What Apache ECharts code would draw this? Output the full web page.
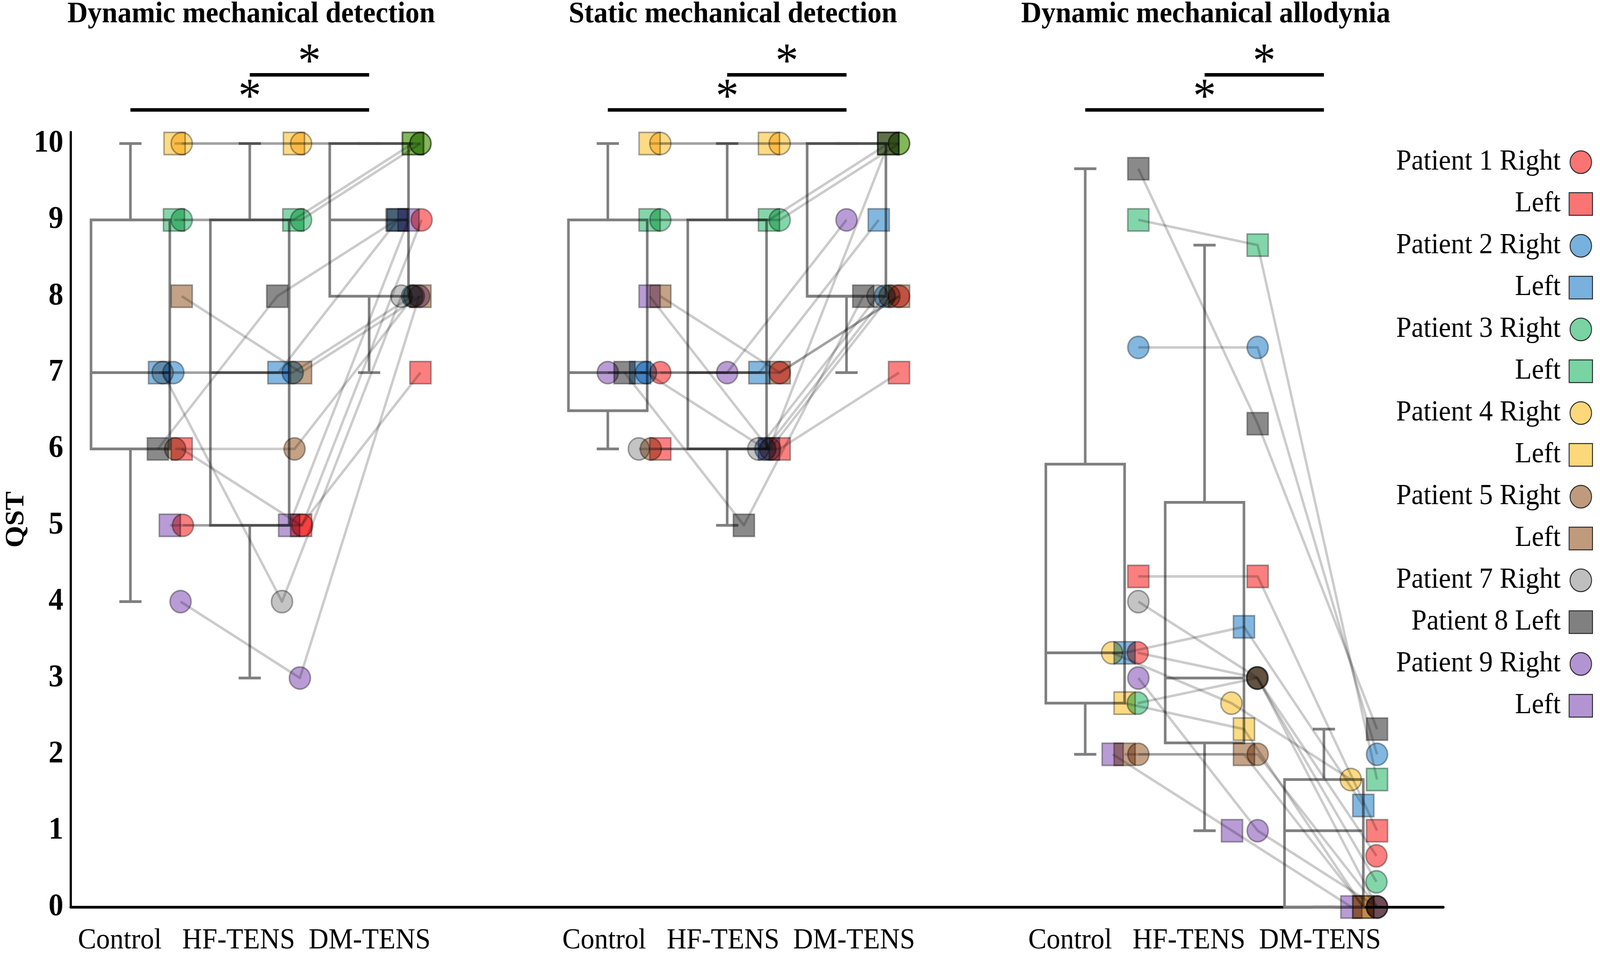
<!DOCTYPE html>
<html>
<head>
<meta charset="utf-8">
<script src="https://cdn.jsdelivr.net/npm/echarts@6/dist/echarts.min.js"></script>
<style>
html,body{margin:0;padding:0;background:#ffffff;overflow:hidden;width:100%;height:100%;}
#chart{width:4318px;height:2454px;transform-origin:0 0;}
</style>
</head>
<body>
<div id="chart"></div>
<script>
// ---------------- data ----------------
const conditions = ['Control', 'HF-TENS', 'DM-TENS'];
const panelTitles = ['Dynamic mechanical detection', 'Static mechanical detection', 'Dynamic mechanical allodynia'];
const patientLabels = ['Patient 1 Right', 'Patient 1 Left', 'Patient 2 Right', 'Patient 2 Left',
  'Patient 3 Right', 'Patient 3 Left', 'Patient 4 Right', 'Patient 4 Left',
  'Patient 5 Right', 'Patient 5 Left', 'Patient 7 Right', 'Patient 8 Left',
  'Patient 9 Right', 'Patient 9 Left'];
const yTicks = [0, 1, 2, 3, 4, 5, 6, 7, 8, 9, 10];

// values per condition, in patient order above
const dynDetControl = [5, 6, 7, 7, 9, 9, 10, 10, 6, 8, 7, 6, 4, 5];
const dynDetHF      = [5, 5, 7, 7, 9, 9, 10, 10, 6, 7, 4, 8, 3, 5];
const dynDetDM      = [9, 7, 8, 9, 10, 10, 10, 10, 8, 8, 8, 9, 8, 9];

const statDetControl = [7, 6, 7, 7, 9, 9, 10, 10, 6, 8, 6, 7, 7, 8];
const statDetHF      = [7, 6, 6, 7, 9, 9, 10, 10, 6, 7, 6, 5, 7, 6];
const statDetDM      = [8, 7, 8, 9, 10, 10, 10, 10, 8, 8, 8, 8, 9, 10];

const alloControl = [3.33, 4.33, 7.33, 3.33, 2.67, 9, 3.33, 2.67, 2, 2, 4, 9.67, 3, 2];
const alloHF      = [3, 4.33, 7.33, 3.67, 3, 8.67, 2.67, 2.33, 2, 2, 3, 6.33, 1, 1];
const alloDM      = [0.67, 1, 2, 1.33, 0.33, 1.67, 1.67, 0, 0, 0, 0, 2.33, 0, 0];

// per-patient horizontal jitter of the points (category units)
const dynDetJitter  = [0.44, 0.43, 0.36, 0.24, 0.43, 0.365, 0.43, 0.37, 0.375, 0.43, 0.27, 0.23, 0.42, 0.33];
const statDetJitter = [0.44, 0.44, 0.32, 0.27, 0.44, 0.35, 0.44, 0.35, 0.36, 0.44, 0.26, 0.14, 0.0, 0.35];
const alloJitter    = [0.44, 0.445, 0.445, 0.33, 0.44, 0.445, 0.225, 0.33, 0.445, 0.33, 0.445, 0.445, 0.445, 0.23];

// box statistics [min, Q1, median, Q3, max] for Control, HF-TENS, DM-TENS
const dynDetBox  = [[4, 6, 7, 9, 10], [3, 5, 7, 9, 10], [7, 8, 9, 10, 10]];
const statDetBox = [[6, 6.5, 7, 9, 10], [5, 6, 7, 9, 10], [7, 8, 8, 10, 10]];
const alloBox    = [[2, 2.67, 3.33, 5.8, 9.67], [1, 2.15, 3, 5.3, 8.67], [0, 0, 1, 1.67, 2.33]];

// significant comparisons (condition index pairs) in every panel
const sigPairs = [[1, 2], [0, 2]];
const sigMark = '*';

// ---------------- styles / layout ----------------
const FONT = "'Liberation Serif', 'Times New Roman', serif";
const patientColors = ['#fb7474', '#fb7474', '#78b1de', '#78b1de', '#79d3a2', '#79d3a2',
  '#fdd87a', '#fdd87a', '#bf9a7c', '#bf9a7c', '#bfbfbf', '#808080', '#b394d3', '#b394d3'];
const PANEL_STEP = 4;
const BOX_HALF = 0.33;
const CAP_HALF = 0.093;
const BOX_COLOR = '#7f7f7f';
const SIG_TOP = 10.9;
const SIG_GAP = 0.46;

const panelValues = [
  [dynDetControl, dynDetHF, dynDetDM],
  [statDetControl, statDetHF, statDetDM],
  [alloControl, alloHF, alloDM]
];
const panelJitter = [dynDetJitter, statDetJitter, alloJitter];
const panelBoxes = [dynDetBox, statDetBox, alloBox];

function isRight(label) { return /Right$/.test(label); }
function patientNo(label) { return label.split(' ')[1]; }

const pointX = panelValues.map((cols, p) => cols.map((col, c) =>
  col.map((v, i) => p * PANEL_STEP + c + panelJitter[p][i])));

// ---------------- series ----------------
const series = [];

// boxes
const boxData = [];
panelBoxes.forEach((boxes, p) => boxes.forEach((b, c) => boxData.push([p * PANEL_STEP + c].concat(b))));
series.push({
  type: 'custom',
  name: 'box',
  z: 2,
  silent: true,
  clip: false,
  data: boxData,
  renderItem: function (params, api) {
    const x = api.value(0), mn = api.value(1), q1 = api.value(2), md = api.value(3), q3 = api.value(4), mx = api.value(5);
    const c = (xx, yy) => api.coord([xx, yy]);
    const st = () => ({ stroke: BOX_COLOR, lineWidth: 7, fill: null });
    const ln = (a, b) => ({ type: 'line', shape: { x1: a[0], y1: a[1], x2: b[0], y2: b[1] }, style: st() });
    const tl = c(x - BOX_HALF, q3), br = c(x + BOX_HALF, q1);
    return {
      type: 'group',
      children: [
        { type: 'rect', shape: { x: tl[0], y: tl[1], width: br[0] - tl[0], height: br[1] - tl[1] }, style: st() },
        ln(c(x - BOX_HALF, md), c(x + BOX_HALF, md)),
        ln(c(x, q3), c(x, mx)),
        ln(c(x, q1), c(x, mn)),
        ln(c(x - CAP_HALF, mx), c(x + CAP_HALF, mx)),
        ln(c(x - CAP_HALF, mn), c(x + CAP_HALF, mn))
      ]
    };
  }
});

// patient markers
patientLabels.forEach((label, i) => {
  const data = [];
  panelValues.forEach((cols, p) => cols.forEach((col, c) => data.push([pointX[p][c][i], col[i]])));
  series.push({
    type: 'scatter',
    name: label,
    symbol: isRight(label) ? 'circle' : 'rect',
    symbolSize: 57,
    z: 3,
    clip: false,
    silent: true,
    blendMode: 'multiply',
    itemStyle: { color: patientColors[i], opacity: 0.92, borderColor: '#a0a0a0', borderWidth: 4 },
    data: data
  });
});

// connecting lines
const lineData = [];
panelValues.forEach((cols, p) => patientLabels.forEach((label, i) => {
  const row = [];
  cols.forEach((col, c) => { row.push(pointX[p][c][i], col[i]); });
  lineData.push(row);
}));
series.push({
  type: 'custom',
  name: 'links',
  z: 4,
  silent: true,
  clip: false,
  blendMode: 'multiply',
  data: lineData,
  renderItem: function (params, api) {
    const pts = [0, 1, 2].map(k => api.coord([api.value(2 * k), api.value(2 * k + 1)]));
    return { type: 'polyline', shape: { points: pts }, style: { stroke: '#cbcbcb', lineWidth: 6.5, fill: null, lineJoin: 'round' } };
  }
});

// significance bars
const sigData = [];
panelTitles.forEach((t, p) => sigPairs.forEach((pr, k) => sigData.push([p * PANEL_STEP + pr[0], p * PANEL_STEP + pr[1], k])));
series.push({
  type: 'custom',
  name: 'sig',
  z: 5,
  silent: true,
  clip: false,
  data: sigData,
  renderItem: function (params, api) {
    const level = SIG_TOP - api.value(2) * SIG_GAP;
    const a = api.coord([api.value(0), level]);
    const b = api.coord([api.value(1), level]);
    return {
      type: 'group',
      children: [
        { type: 'line', shape: { x1: a[0], y1: a[1], x2: b[0], y2: b[1] }, style: { stroke: '#000', lineWidth: 9 } },
        { type: 'text', style: { text: sigMark, x: (a[0] + b[0]) / 2, y: a[1] - 28, fill: '#000',
            fontSize: 124, fontFamily: FONT, align: 'center', verticalAlign: 'middle',
            textAlign: 'center', textVerticalAlign: 'middle' } }
      ]
    };
  }
});

// ---------------- option ----------------
const axisText = conditions[0] + '   ' + conditions[1] + '  ' + conditions[2];
const richBase = { fontSize: 74, fontFamily: FONT, color: '#000' };

const titleX = [678, 1978, 3254];
const graphics = panelTitles.map((t, p) => ({
  type: 'text',
  x: titleX[p],
  y: 37,
  style: { text: t, fill: '#000', font: 'bold 76px ' + FONT, textAlign: 'center', textVerticalAlign: 'middle', align: 'center', verticalAlign: 'middle' },
  silent: true
}));

const legendData = patientLabels.map((label, i) => ({
  name: label,
  icon: isRight(label) ? 'circle' : 'rect',
  itemStyle: { color: patientColors[i], opacity: 1, borderColor: '#2a2a2a', borderWidth: 2.5 }
}));

const option = {
  animation: false,
  backgroundColor: '#ffffff',
  grid: { left: 178, right: 423, top: 338, bottom: 133, containLabel: false },
  xAxis: {
    type: 'value',
    min: -0.5,
    max: 11,
    interval: 0.5,
    splitLine: { show: false },
    axisTick: { show: false },
    axisLine: { show: true, onZero: false, lineStyle: { color: '#000', width: 7 } },
    axisLabel: {
      margin: 50,
      fontSize: 74,
      fontFamily: FONT,
      color: '#000',
      formatter: function (v) {
        const p = (v - 1) / PANEL_STEP;
        if (Number.isInteger(p) && p >= 0 && p < panelTitles.length) return '{p' + p + '|' + axisText + '}';
        return '';
      },
      rich: {
        p0: Object.assign({ padding: [0, 0, 0, 24] }, richBase),
        p1: Object.assign({ padding: [0, 0, 0, 62] }, richBase),
        p2: Object.assign({}, richBase)
      }
    }
  },
  yAxis: {
    type: 'value',
    min: yTicks[0],
    max: 10.15,
    interval: yTicks[1] - yTicks[0],
    name: 'QST',
    nameLocation: 'middle',
    nameRotate: 90,
    nameGap: 105,
    nameTextStyle: { fontSize: 72, fontWeight: 'bold', fontFamily: FONT, color: '#000' },
    splitLine: { show: false },
    axisTick: { show: false },
    axisLine: { show: true, onZero: false, lineStyle: { color: '#000', width: 6 } },
    axisLabel: {
      margin: 20,
      fontSize: 80,
      fontWeight: 'bold',
      fontFamily: FONT,
      color: '#000',
      formatter: function (v) { return yTicks.indexOf(v) >= 0 ? String(v) : ''; }
    }
  },
  legend: {
    orient: 'vertical',
    right: 14,
    top: 373,
    align: 'right',
    itemWidth: 63,
    itemHeight: 58,
    itemGap: 33,
    selectedMode: false,
    data: legendData,
    formatter: function (name) {
      const i = patientLabels.indexOf(name);
      if (i > 0 && patientNo(patientLabels[i - 1]) === patientNo(name)) return name.split(' ').slice(2).join(' ');
      return name;
    },
    textStyle: { fontSize: 74, fontFamily: FONT, color: '#000', padding: [0, 18, 0, 0] }
  },
  graphic: graphics,
  series: series
};

// fit the 4318x2454 design to the actual viewport
const W = 4318, H = 2454;
const el = document.getElementById('chart');
const vw = window.innerWidth || W, vh = window.innerHeight || H;
el.style.transform = 'scale(' + (vw / W) + ',' + (vh / H) + ')';

const chart = echarts.init(el, null, { renderer: 'canvas', width: W, height: H,
  devicePixelRatio: Math.max(1, (window.devicePixelRatio || 1)) });
chart.setOption(option);
</script>
</body>
</html>
